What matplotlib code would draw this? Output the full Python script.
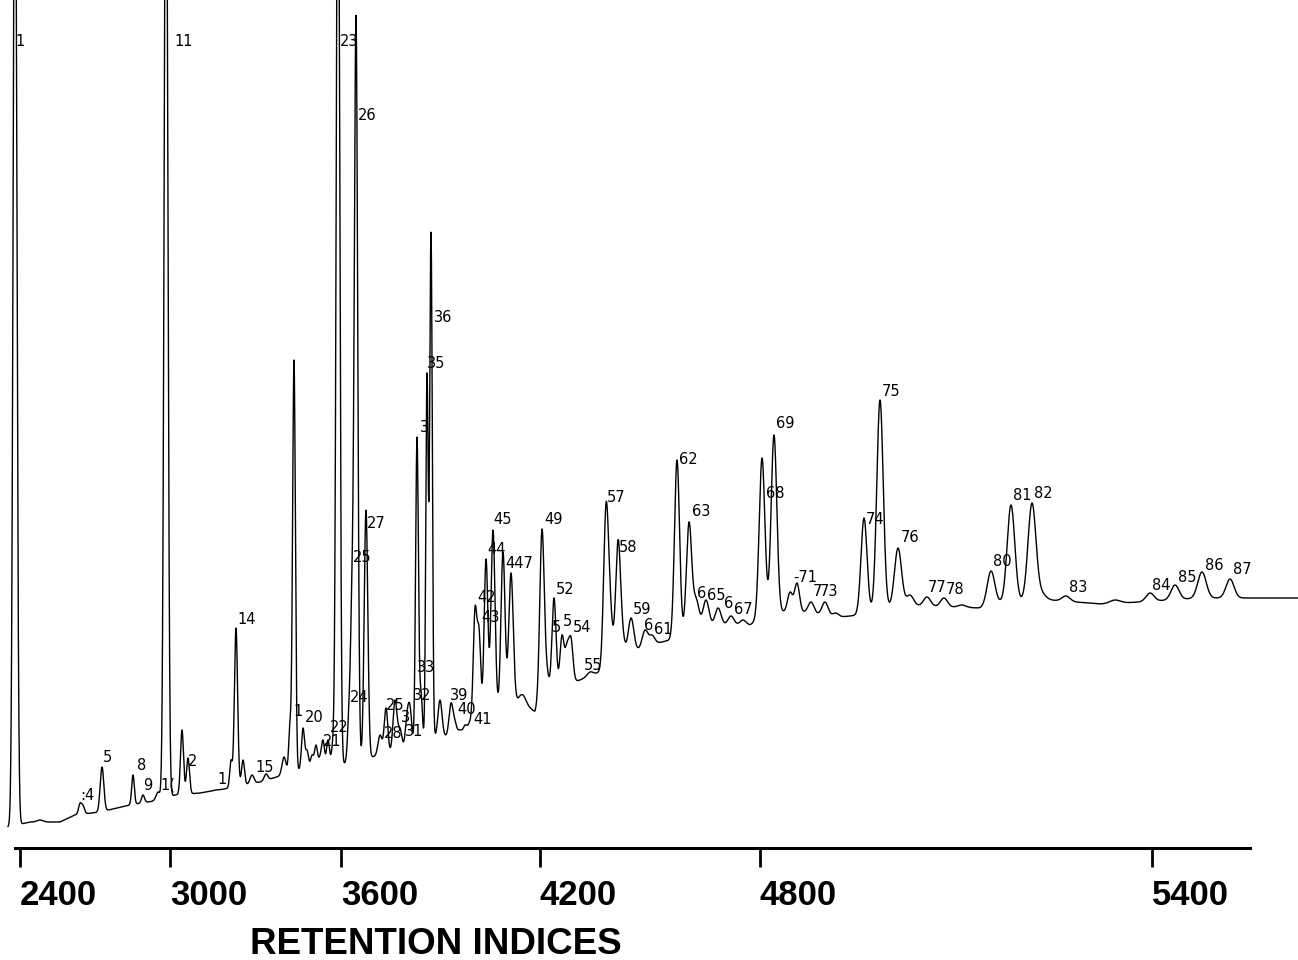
import numpy as np
import matplotlib
matplotlib.use("Agg")
import matplotlib.pyplot as plt

# chromatogram trace, x in scan units, y in detector response
base_x = [8, 30, 60, 75, 100, 130, 160, 175, 200, 230, 260, 280, 300, 340,
          360, 380, 400, 420, 440, 460, 475, 500, 520, 535, 545, 580, 600, 625,
          650, 670, 690, 720, 750, 770, 800, 840, 860, 900, 950, 980, 1000, 1050,
          1100, 1140, 1200, 1298]
base_y = [21, 26, 26, 33, 36, 43, 48, 53, 55, 60, 66, 72, 78, 83,
          88, 93, 96, 103, 113, 108, 118, 143, 148, 136, 158, 168, 176, 193,
          203, 208, 218, 223, 223, 236, 236, 231, 233, 243, 241, 240, 245, 248,
          244, 246, 250, 250]

# peaks: centre, apex response, width
peak_x = [15, 40, 80, 83, 102, 133, 143, 158, 166, 182, 188, 215, 231,
          236, 243, 252, 266, 284, 290, 294, 303, 307, 312, 316, 320, 323,
          328, 333, 338, 349, 352, 356, 366, 380, 386, 395, 400, 407, 410,
          417, 421, 427, 431, 440, 451, 455, 460, 465, 470, 475, 479, 486,
          493, 503, 511, 523, 542, 547, 554, 562, 567, 571, 590, 598, 606,
          610, 618, 622, 631, 645, 652, 677, 689, 696, 706, 718, 731, 743, 762,
          774, 790, 797, 811, 825, 836, 864, 880, 898, 910, 927, 944, 962, 991,
          1011, 1032, 1042, 1066, 1090, 1115, 1150, 1175, 1202, 1230]
peak_y = [1100, 28, 45, 43, 81, 73, 53, 56, 1100, 118, 90, 58, 88,
          220, 88, 73, 74, 91, 128, 488, 120, 98, 93, 103, 93, 108,
          108, 116, 1100, 148, 281, 833, 338, 113, 140, 148, 120, 136, 143,
          411, 158, 475, 616, 148, 145, 128, 118, 123, 128, 241, 221, 289,
          318, 296, 275, 153, 319, 185, 250, 213, 206, 211, 176, 175, 345,
          268, 308, 238, 230, 218, 213, 388, 326, 251, 248, 240, 232, 228, 390,
          413, 256, 265, 246, 246, 235, 330, 448, 300, 253, 251, 250, 243, 277,
          343, 345, 258, 252, 245, 248, 255, 263, 276, 269]
peak_w = [1.8, 3, 1.5, 1.5, 1.8, 1.3, 1.5, 2, 1.8, 1.5, 1.5, 2, 1.3,
          1.6, 1.5, 2, 1.8, 2, 1.3, 1.4, 1.5, 1.5, 1.5, 1.5, 1.5, 1.5,
          1.5, 1.5, 1.7, 1.5, 1.5, 1.7, 1.8, 2, 1.8, 2, 2, 1.8, 1.8,
          1.4, 1.4, 1.2, 1.3, 2, 2, 2, 2, 2, 2, 1.8, 1.8, 1.9,
          2, 2, 2.2, 3, 2.2, 1.8, 2, 2, 2, 2, 3, 3, 2.4,
          2.5, 2.4, 2.5, 2.8, 2.8, 2.8, 2.5, 2.6, 3, 3, 3, 3, 3, 2.8,
          2.8, 2.5, 2.5, 3, 3, 3, 3, 3.2, 3.5, 3.5, 3.5, 3.5, 4, 3.8,
          3.8, 4, 4, 4, 5, 5, 4, 4, 4.2, 4]

# peak numbers as printed, with their text position (left edge, centre)
lab_text = ["1", ":4", "5", "8", "9", "1(", "11", "2", "1", "14", "15", "1", "20",
            "21", "22", "23", "24", "25", "26", "27", "25", "3", "28", "31", "32",
            "33", "3", "35", "36", "39", "40", "41", "42", "43", "44", "45", "447",
            "49", "52", "5", "5", "54", "55", "57", "58", "59", "6", "61", "62", "63",
            "6", "65", "6", "67", "68", "69", "-71", "7", "73", "74", "75", "76",
            "77", "78", "80", "81", "82", "83", "84", "85", "86", "87"]
lab_x = [15, 80, 103, 137, 143, 160, 174, 188, 217, 237, 255, 293, 305,
         323, 330, 340, 350, 353, 358, 367, 386, 401, 384, 405, 413,
         417, 420, 427, 434, 450, 457, 473, 477, 481, 487, 493, 505,
         544, 556, 552, 563, 573, 584, 607, 619, 633, 644, 654, 679, 692,
         697, 707, 724, 734, 766, 776, 793, 813, 820, 866, 882, 901,
         928, 946, 993, 1013, 1034, 1069, 1152, 1178, 1205, 1233]
lab_y = [42, 795, 758, 765, 785, 785, 42, 762, 780, 620, 768, 712, 717,
         742, 727, 42, 697, 557, 116, 523, 706, 718, 734, 731, 696,
         667, 428, 364, 318, 696, 710, 720, 598, 617, 549, 520, 563,
         519, 590, 627, 621, 628, 665, 497, 548, 609, 626, 630, 460, 512,
         593, 595, 604, 610, 494, 424, 578, 592, 592, 520, 392, 538,
         588, 590, 562, 495, 494, 588, 585, 578, 565, 570]

# retention index ticks along the time axis
idx_pos = [20, 170, 341, 540, 760, 1152]
idx_lab = ["2400", "3000", "3600", "4200", "4800", "5400"]

x = np.linspace(8, 1298, 9000)
base = np.interp(x, base_x, base_y)

px = np.array(peak_x, float)
pw = np.array(peak_w, float)
target = np.array(peak_y, float) - np.interp(px, base_x, base_y)
G = np.exp(-0.5 * ((px[:, None] - px[None, :]) / pw[None, :]) ** 2)
amp = target.copy()
for _ in range(60):
    for i in range(len(amp)):
        rest = G[i] @ amp - amp[i]
        amp[i] = max(target[i] - rest, 0)
signal = base + (amp[None, :] * np.exp(-0.5 * ((x[:, None] - px[None, :]) / pw[None, :]) ** 2)).sum(axis=1)

fig = plt.figure(figsize=(12.98, 9.6), dpi=100)
ax = fig.add_axes([0, 112 / 960, 1, 848 / 960])
ax.plot(x, signal, color="black", lw=1.0)
ax.set_xlim(0, 1298)
ax.set_ylim(0, 848)

for t, lx, ly in zip(lab_text, lab_x, lab_y):
    ax.text(lx, 848 - ly, t, fontsize=10.5, ha="left", va="center",
            family="DejaVu Sans", color="black")

for s in ax.spines.values():
    s.set_visible(False)
ax.axhline(0, xmin=15 / 1298, xmax=1250 / 1298, color="black", lw=2.2, clip_on=False)
ax.set_yticks([])
ax.set_xticks(idx_pos)
ax.set_xticklabels(idx_lab, ha="left")
ax.tick_params(axis="x", direction="out", length=14, width=2, pad=8,
               labelsize=25)
for lab in ax.get_xticklabels():
    lab.set_family(["Liberation Sans Narrow", "Liberation Sans"])
    lab.set_weight("bold")

fig.text(436 / 1298, 1 - 944 / 960, "RETENTION INDICES", ha="center", va="center",
         fontsize=26.5, weight="bold", family=["Liberation Sans Narrow", "Liberation Sans"])

fig.savefig("out.png", dpi=100)
